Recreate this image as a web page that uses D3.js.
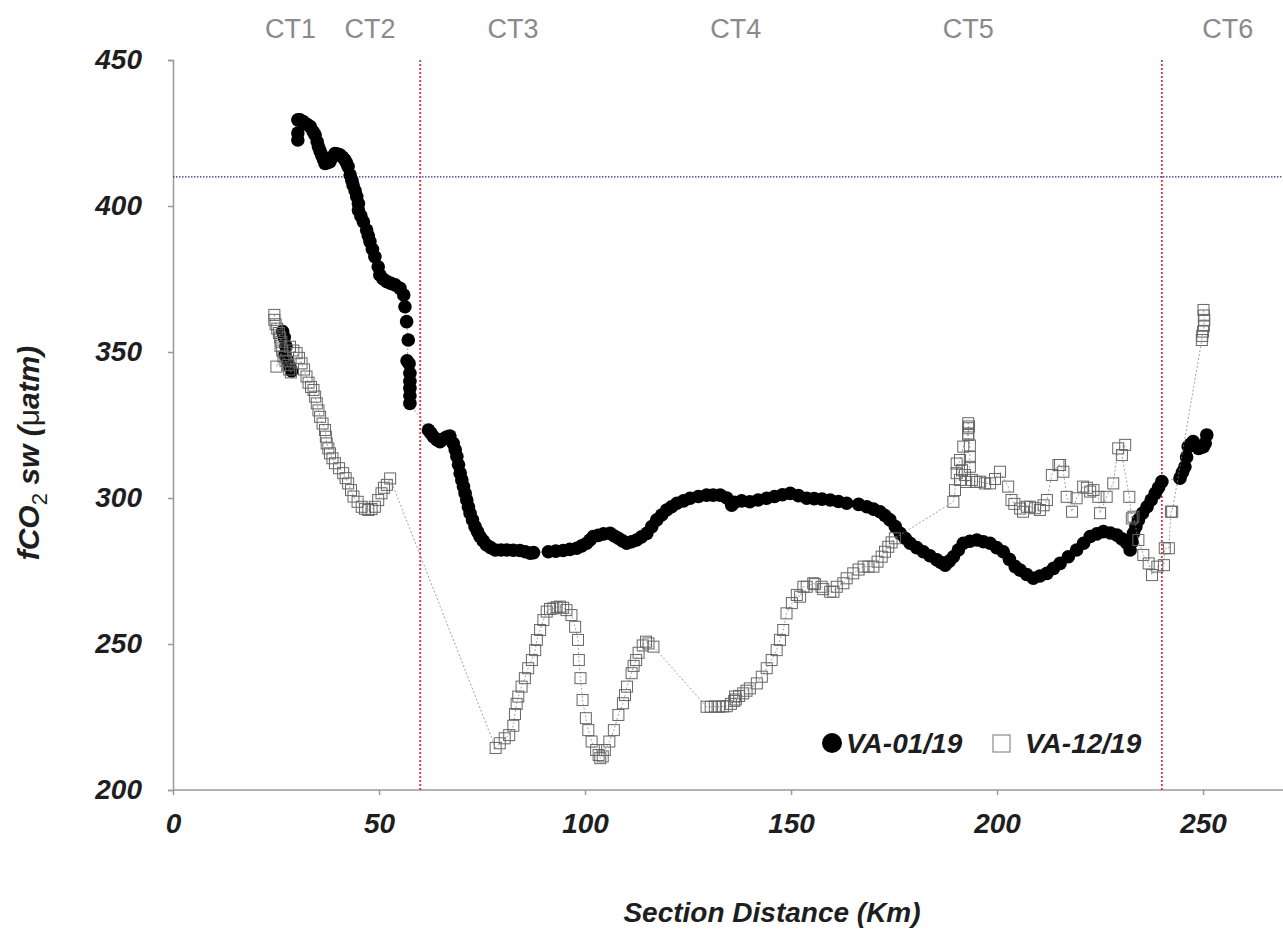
<!DOCTYPE html>
<html><head><meta charset="utf-8">
<script src="https://cdn.jsdelivr.net/npm/d3@7"></script>
<style>body{margin:0;background:#fff}svg{display:block}</style></head>
<body><svg id="chart" width="1283" height="930"></svg>
<script>
// ---------- data ----------
const xTicks = [0, 50, 100, 150, 200, 250];
const yTicks = [200, 250, 300, 350, 400, 450];
const sectionLabels = ["CT1", "CT2", "CT3", "CT4", "CT5", "CT6"];
const sectionKm = [28.5, 47.8, 82.5, 136.6, 193, 256];
const boundaryKm = [60, 240];
const refLevel = 410;
const seriesNames = ["VA-01/19", "VA-12/19"];

// VA-01/19 (filled circles); null marks a break in the track line
const va01Points = [
 [26.6,357],[27.0,355],[27.4,352],[27.2,349],[27.8,347],[28.3,345],[28.8,343.5],null,
 [30.3,422.6],[30.3,425],[30.3,429.5],[30.8,429.5],[31.6,428.9],[32.5,428],[33.3,427.2],[34,425.5],[34.5,424.3],[35,422],[35.3,420.3],[35.7,418.8],[36.1,417.5],[36.5,416],[36.9,414.6],[37.5,414.8],[38.1,415.2],[38.7,416.8],[39.3,418],[39.9,417.8],[40.5,417.5],[41.1,416.8],[41.7,415.8],[42.1,414.8],[42.5,413.5],[43,410.6],[43.4,408.8],[43.7,407.2],[44.2,405.2],[44.6,403.2],[45,400.8],[45,398.6],[45.6,396.6],[46.2,394.6],[47,391.8],[47.4,389.8],[47.8,387.8],[48.4,385.2],[49,382.6],[49.8,379.2],[50.2,376.4],[51,375],[51.9,374.1],[52.9,373.5],[53.9,373],[55.1,371.8],[56,369.5],[56.3,365.5],[56.7,360.4],[57.1,354.1],[56.8,347],[57.3,346],[57.5,342.7],[57.5,340],[57.5,337.6],[57.5,335],[57.5,332.4],
 [62,323.3],[62.6,322.2],[63.2,321],[64,320],[64.8,319.3],[65.4,320],[66,320.5],[66.6,321],[67.2,321.2],[68,318.7],[68.5,316.5],[68.9,314.2],[69.3,311.4],[69.7,308.5],[70.1,306.2],[70.5,303.9],[70.9,301.6],[71.3,299.3],[71.7,297],[72.1,294.8],[72.7,292.5],[73.3,290.2],[73.9,288.5],[74.5,286.8],[75.3,285.3],[76.1,283.9],[77.1,283],[78.2,282.2],[79.6,282.2],[81,282.2],[82.6,282.1],[84.2,282],[85.5,281.6],[86.7,281.1],[87.5,281.3],
 [91.1,281.6],[92.9,281.8],[94.7,282],[96.3,282.4],[98,282.8],[99.2,283.6],[100.4,284.5],[101.2,285.6],[102,286.8],[103.2,287.2],[104.5,287.7],[106.1,287.9],[107.1,287],[108.1,286.2],[109.1,285.3],[110.1,284.5],[111.3,285],[112.5,285.6],[113.7,286.7],[115,287.9],[116.2,290.2],[117.4,292.5],[118.6,294.2],[119.8,295.9],[121,297],[122.3,298.2],[123.9,299],[125.5,299.9],[127.5,300.5],[129.5,301],[131.1,301],[132.8,301],[134.4,300],[135.6,297.5],[136.2,298.5],[138,299],[140,298.7],[142,299.3],[144.1,299.9],[146,300.5],[147.9,301.1],[149.8,301.6],[151.8,300.8],[153.8,299.9],[155.6,299.8],[157.5,299.6],[159.5,299.3],[161.5,298.8],[163.5,298.2],
 [166.4,297.8],[168.4,297],[170,296.2],[171.6,295.3],[172.8,294],[174,292.5],[175.3,290.2],[176.5,287.9],[177.7,286.2],[178.9,284.5],[180.5,283],[182.1,281.6],[183.7,280.2],[185.4,278.8],[186.4,277.9],[187.4,277],[188.4,278.4],[189.4,279.9],[190.6,282.2],[191.8,284.5],[193.4,285.2],[195.1,285.6],[196.7,285],[198.3,284.5],[199.9,283],[201.5,281.6],[203,279],[204.4,276.5],[205.6,275.3],[207.2,273.8],[208.8,272.5],[210.4,273.3],[212.1,274.2],[213.7,275.9],[215.3,277.6],[217.3,279.9],[219.3,282.2],[221,284.5],[222.6,286.8],[224.2,287.7],[225.8,288.5],[227.5,288],[229.1,287.3],[230.3,286],[231.5,284.5],[232.3,282.2],[232.8,285],[233.1,287.9],[233.7,290.2],[234.3,292.5],[235.3,294.8],[236.4,297],[237.4,299.3],[238.4,301.6],[239.2,303.6],[240,305.6],
 [244.4,306.8],[245,308.8],[245.6,310.7],[246,314],[246.4,317.6],[247,318.5],[247.6,319.3],[248.2,318],[248.9,317],[249.5,317.3],[250.1,317.6],[250.5,318.7],[250.9,321.6]
];

// VA-12/19 (open squares)
const va12Points = [
 [24.6,362.7],[24.6,361],[24.9,359.5],[25.3,358],[25.7,356.5],[26,355],[26.3,353.5],[26.1,352],[26.5,350.5],[25.1,345],[26.8,348.5],[27.3,347],[27.8,345.5],[28.2,344],[28.6,343],[28.4,351.8],[29.2,350.5],[30,349.6],[30.6,348],[31.2,346.1],[31.8,344],[32.4,341.6],[32.9,339.5],[33.5,338],[34.1,337],[34.5,334.7],[34.9,332.4],[35.3,330],[35.7,327.8],[36.3,325.5],[36.9,323.3],[37.1,321],[37.3,318.7],[37.7,317],[38.1,315.3],[38.7,313.6],[39.3,311.9],[40.3,310.2],[41.3,308.5],[41.9,306.8],[42.5,305],[43.2,302.7],[43.8,300.5],[44.8,298.7],[45.8,297],[46.6,296.3],[47.4,295.9],[48.2,296.2],[49,297],[49.8,299.3],[50.6,301.6],[51.2,303.5],[51.9,304.5],[52.7,306.7],
 [78.3,214.4],[79.3,216],[80.5,217.7],[81.6,218.8],[82.6,222],[83,226],[83.4,229.5],[83.8,232],[84.6,235.4],[85.4,238.3],[86.2,241.7],[87.1,244.5],[87.9,247.9],[88.3,251.4],[89.1,254.8],[89.9,258.2],[90.7,261.1],[91.5,262],[92.3,262.2],[93.1,262.6],[93.9,262.8],[94.7,262.4],[95.5,261.6],[96.7,259.9],[97.6,255.9],[98.3,251.4],[98.5,244.5],[98.9,238.3],[99.4,230.8],[100.2,224.6],[100.8,220.5],[101.6,216.6],[102.7,213.7],[103.3,212],[103.7,210.9],[104.3,211.5],[104.8,213.7],[105.9,216.6],[107,220.5],[108.1,225.7],[109.2,229.7],[109.7,232.5],[110.2,235.4],[111.3,240],[111.8,242.5],[112.4,244.5],[113,247],[114,249.5],[114.8,250.8],[115.4,250.2],[116.6,249.1],
 [129.5,228.5],[130.5,228.5],[131.5,228.6],[132.5,228.5],[133.5,228.6],[134.4,228.7],[135.4,229.5],[136.2,230.5],[136.4,232],[136.6,231],[137.4,232.2],[138.4,233.1],[139.2,234],[140,234.8],[141.7,236.5],[142.9,238.8],[144.1,241.7],[145.3,244.5],[146.5,247.9],[147.3,251.4],[148.1,254.8],[148.9,260.5],[150.2,264],[151.4,266.8],[152.2,266.2],[153,269.6],[153.8,269.6],[155.4,270.8],[155.8,270.5],[157.4,269.6],[157.8,268.8],[159.5,267.9],[160.3,267.9],[161.1,269.6],[162.7,270.8],[163.5,272.5],[165.1,274.2],[166.4,275.5],[167.6,276.5],[168.8,276.5],[170,276.5],[171,278.2],[172,279.9],[172.8,281.6],[173.6,283.3],[174.4,284.8],[175.2,286.2],
 [189.4,298.7],[189.8,302.7],[190.2,308.5],[191,313],[191.8,317.6],[193,322.1],[193,323.9],[193,325.6],[193.2,324.5],[193,321.6],[193.4,318],[193.4,314],[193.4,310.7],[192.2,307.9],[191,306.2],[190.2,311.8],[191.5,309.5],[192.5,305.5],[193.9,306.2],[194.9,305.5],[195.9,305.6],[197.1,305],[198.3,305],[199.5,306.5],[200.7,309],[202.7,303.9],[203.5,299.3],[204.2,298],[205.6,296.4],[206.3,295.3],[207.2,297],[208,297],[209.2,296.5],[210.4,295.9],[211.3,297.5],[212.1,299.3],[213.3,307.9],[214.9,311.3],[215.3,311.3],[216.1,309],[216.9,300.4],[218.2,295.3],[219.3,299.9],[220.9,303.9],[221.8,303.5],[222.6,302.2],[223.4,302.7],[224.6,300.4],[225,294.8],[226.6,300.4],[228.2,305],[229.4,317],[231.1,318.2],[230.3,314.7],[232.1,300.4],[232.7,293],[233.1,293.6],[234.3,285.6],[235.5,280.5],[236.8,277.6],[237.6,273.6],[238.9,276.5],[240.5,277],[240.7,282.8],[241.7,282.8],[242.2,295.3],[242.5,295.3],
 [249.7,354.1],[249.8,355.5],[250,357],[250.2,359],[250.3,361],[250.2,362.5],[250.1,364.4]
];

// ---------- chart ----------
const W = 1283, H = 930;
const FONT = "'Liberation Sans', Arial, Helvetica, sans-serif";
const svg = d3.select("#chart").style("font-family", FONT);

const x = d3.scaleLinear().domain([0, 269.4]).range([173, 1283]);
const y = d3.scaleLinear().domain([200, 450]).range([790, 60]);

// axes
const axisColor = "#9a9a9a";
const gy = svg.append("g").attr("transform", `translate(${x(0)},0)`)
  .call(d3.axisLeft(y).tickValues(yTicks).tickSize(5).tickPadding(26).tickFormat(d3.format("d")));
const gx = svg.append("g").attr("transform", `translate(0,${y(200)})`)
  .call(d3.axisBottom(x).tickValues(xTicks).tickSize(5).tickPadding(18).tickFormat(d3.format("d")));
[gx, gy].forEach(g => {
  g.select(".domain").attr("stroke", axisColor).attr("stroke-width", 1.5);
  g.selectAll(".tick line").attr("stroke", axisColor).attr("stroke-width", 1.5);
  g.selectAll(".tick text").attr("fill", "#1e1e1e").attr("font-size", 28)
    .attr("font-weight", "bold").attr("font-style", "italic").attr("font-family", FONT);
});
// extend bottom axis to right edge
gx.select(".domain").attr("d", `M${x(0)},0H${W}`);

// reference lines
svg.append("line").attr("x1", x(0)).attr("x2", W).attr("y1", y(refLevel)).attr("y2", y(refLevel))
  .attr("stroke", "#2e2e90").attr("stroke-width", 1.3).attr("stroke-dasharray", "1.5,1.5");
svg.selectAll("line.bound").data(boundaryKm).join("line").attr("class", "bound")
  .attr("x1", d => x(d)).attr("x2", d => x(d)).attr("y1", y(450)).attr("y2", y(200))
  .attr("stroke", "#d23a3a").attr("stroke-width", 1.8).attr("stroke-dasharray", "2,2");

// section labels
svg.selectAll("text.sec").data(sectionLabels).join("text").attr("class", "sec")
  .attr("x", (d, i) => x(sectionKm[i])).attr("y", 38).attr("text-anchor", "middle")
  .attr("font-size", 27).attr("fill", "#8a8a8a").text(d => d);

// line generators
const line = d3.line().defined(d => d !== null).x(d => x(d[0])).y(d => y(d[1]));

// VA-01/19 track + circles
svg.append("path").datum(va01Points).attr("d", line).attr("fill", "none")
  .attr("stroke", "#888").attr("stroke-width", 0.8).attr("stroke-dasharray", "2,2");
svg.append("g").selectAll("circle").data(va01Points.filter(d => d !== null)).join("circle")
  .attr("cx", d => x(d[0])).attr("cy", d => y(d[1])).attr("r", 6.8).attr("fill", "#000");

// VA-12/19 track + squares
svg.append("path").datum(va12Points).attr("d", line).attr("fill", "none")
  .attr("stroke", "#8a8a8a").attr("stroke-width", 0.8).attr("stroke-dasharray", "2,2");
const sq = 11;
svg.append("g").selectAll("rect").data(va12Points).join("rect")
  .attr("x", d => x(d[0]) - sq / 2).attr("y", d => y(d[1]) - sq / 2)
  .attr("width", sq).attr("height", sq).attr("fill", "none")
  .attr("stroke", "#666").attr("stroke-width", 1);

// legend
const lg = svg.append("g");
lg.append("circle").attr("cx", 832).attr("cy", 743).attr("r", 10).attr("fill", "#000");
lg.append("text").attr("x", 846).attr("y", 753).text(seriesNames[0]);
lg.append("rect").attr("x", 993).attr("y", 735).attr("width", 17).attr("height", 17)
  .attr("fill", "#fff").attr("stroke", "#8a8a8a").attr("stroke-width", 1.2);
lg.append("text").attr("x", 1025).attr("y", 753).text(seriesNames[1]);
lg.selectAll("text").attr("font-size", 28).attr("font-weight", "bold").attr("font-style", "italic").attr("fill", "#1e1e1e");

// axis titles
svg.append("text").attr("x", 772).attr("y", 912).attr("text-anchor", "middle")
  .attr("dominant-baseline", "central").attr("font-size", 28).attr("font-weight", "bold")
  .attr("font-style", "italic").attr("fill", "#1e1e1e").text("Section Distance (Km)");

const yt = svg.append("text").attr("transform", "translate(39,453) rotate(-90)")
  .attr("text-anchor", "middle").attr("font-size", 30).attr("font-weight", "bold")
  .attr("font-style", "italic").attr("fill", "#1e1e1e");
yt.append("tspan").text("fCO");
yt.append("tspan").attr("dy", 8).attr("font-size", 22).attr("font-style", "normal").attr("font-weight", "normal").text("2");
yt.append("tspan").attr("dy", -8).text(" sw (");
yt.append("tspan").attr("font-style", "normal").attr("font-weight", "normal").text("μ");
yt.append("tspan").text("atm)");
</script></body></html>
